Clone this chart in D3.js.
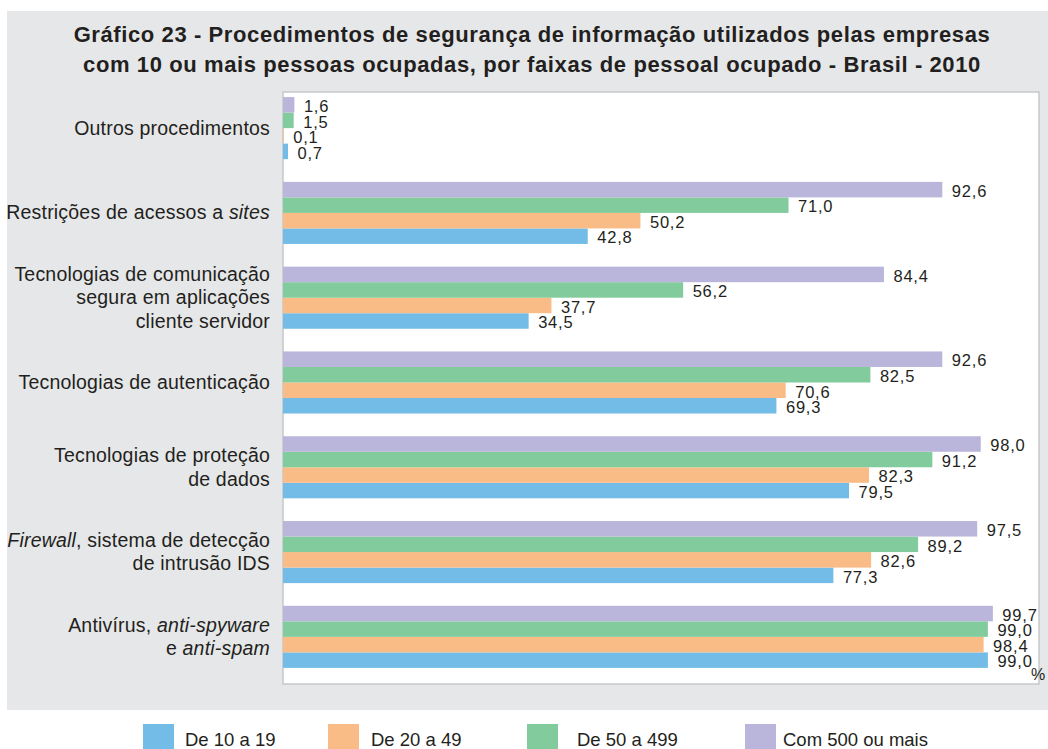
<!DOCTYPE html>
<html>
<head>
<meta charset="utf-8">
<script src="https://cdn.jsdelivr.net/npm/d3@7"></script>
<style>
  body { margin: 0; background: #fff; }
  svg { display: block; font-family: "Liberation Sans", Arial, sans-serif; }
</style>
</head>
<body>
<svg id="chart" width="1048" height="749"></svg>
<script>
// procedimentos (de cima para baixo); "|" quebra linha, *...* em itálico
const categories = [
    "Outros procedimentos",
    "Restrições de acessos a *sites*",
    "Tecnologias de comunicação|segura em aplicações|cliente servidor",
    "Tecnologias de autenticação",
    "Tecnologias de proteção|de dados",
    "*Firewall*, sistema de detecção|de intrusão IDS",
    "Antivírus, *anti-spyware*|e *anti-spam*"
];
const seriesNames = ["De 10 a 19", "De 20 a 49", "De 50 a 499", "Com 500 ou mais"];
const de10a19 = [0.7, 42.8, 34.5, 69.3, 79.5, 77.3, 99.0];
const de20a49 = [0.1, 50.2, 37.7, 70.6, 82.3, 82.6, 98.4];
const de50a499 = [1.5, 71.0, 56.2, 82.5, 91.2, 89.2, 99.0];
const com500 = [1.6, 92.6, 84.4, 92.6, 98.0, 97.5, 99.7];
const seriesColors = ["#72bce7", "#f9bc86", "#81cb9c", "#bab5da"];
const titleLines = [
    "Gráfico 23 - Procedimentos de segurança de informação utilizados pelas empresas",
    "com 10 ou mais pessoas ocupadas, por faixas de pessoal ocupado - Brasil - 2010"
];

const series = [de10a19, de20a49, de50a499, com500];
const textColor = "#231f20";
const fmt = v => d3.format(".1f")(v).replace(".", ",");

const svg = d3.select("#chart");

// fundo cinza
svg.append("rect")
    .attr("x", 7).attr("y", 11)
    .attr("width", 1048).attr("height", 699)
    .attr("fill", "#e6e7e8");

svg.append("g")
    .selectAll("text")
    .data(titleLines)
    .join("text")
    .attr("x", 532)
    .attr("y", (d, i) => 42 + i * 30)
    .attr("text-anchor", "middle")
    .attr("font-size", 22)
    .attr("letter-spacing", 0.6)
    .attr("font-weight", "bold")
    .attr("fill", textColor)
    .text(d => d);

const plot = {left: 283, right: 1039, top: 92, bottom: 684};

svg.append("rect")
    .attr("x", plot.left).attr("y", plot.top)
    .attr("width", plot.right - plot.left).attr("height", plot.bottom - plot.top)
    .attr("fill", "#fff")
    .attr("stroke", "#c6c7c9")
    .attr("stroke-width", 1.5);

const x = d3.scaleLinear().domain([0, 100]).range([plot.left, plot.left + 712]);

const y = d3.scaleBand()
    .domain(categories)
    .range([plot.top, plot.bottom])
    .paddingInner(0.268)
    .paddingOuter(0.125)
    .align(0.24);

// ordem dentro do grupo: maior faixa em cima
const yInner = d3.scaleBand()
    .domain([3, 2, 1, 0])
    .range([0, y.bandwidth()]);

const rows = [];
categories.forEach((c, ci) => {
    series.forEach((s, si) => rows.push({cat: c, s: si, v: s[ci]}));
});

const g = svg.append("g");

g.selectAll("rect")
    .data(rows)
    .join("rect")
    .attr("x", x(0))
    .attr("y", d => y(d.cat) + yInner(d.s))
    .attr("width", d => x(d.v) - x(0))
    .attr("height", yInner.bandwidth())
    .attr("fill", d => seriesColors[d.s]);

g.selectAll("text")
    .data(rows)
    .join("text")
    .attr("x", d => x(d.v) + 9.5)
    .attr("y", d => y(d.cat) + yInner(d.s) + yInner.bandwidth() - 0.5)
    .attr("font-size", 16.5)
    .attr("letter-spacing", 0.8)
    .attr("fill", textColor)
    .text(d => fmt(d.v));

svg.append("text")
    .attr("x", 1031).attr("y", 680)
    .attr("font-size", 16)
    .attr("fill", textColor)
    .text("%");

// rótulos das categorias
const catG = svg.append("g")
    .attr("font-size", 19.5)
    .attr("letter-spacing", 0.2)
    .attr("fill", textColor)
    .attr("text-anchor", "end");

categories.forEach(c => {
    const lines = c.split("|");
    const lh = 23.5;
    const cy = y(c) + y.bandwidth() / 2;
    lines.forEach((line, li) => {
        const t = catG.append("text")
            .attr("x", 270)
            .attr("y", cy - (lines.length - 1) * lh / 2 + li * lh + 6.5);
        line.split("*").forEach((part, pi) => {
            if (part === "") return;
            t.append("tspan")
                .attr("font-style", pi % 2 ? "italic" : "normal")
                .text(part);
        });
    });
});

// legenda
const legendX = [143, 328, 527, 745];
const legendTextX = [185, 371, 577, 783];
const leg = svg.append("g")
    .selectAll("g")
    .data(seriesNames)
    .join("g");

leg.append("rect")
    .attr("x", (d, i) => legendX[i])
    .attr("y", 724)
    .attr("width", 31).attr("height", 27)
    .attr("fill", (d, i) => seriesColors[i]);

leg.append("text")
    .attr("x", (d, i) => legendTextX[i])
    .attr("y", 746)
    .attr("font-size", 18.5)
    .attr("fill", textColor)
    .text(d => d);
</script>
</body>
</html>
